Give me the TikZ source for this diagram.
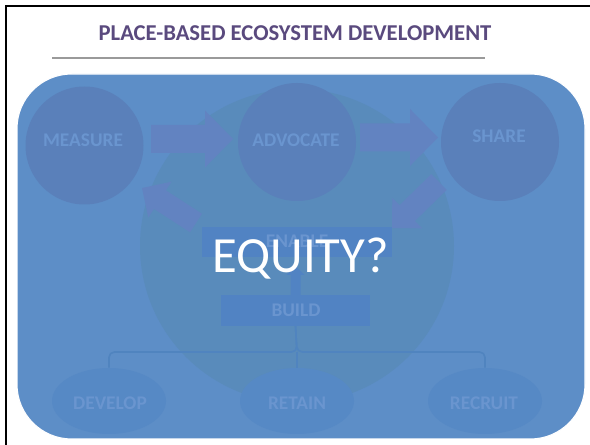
\documentclass[tikz,border=0pt]{standalone}
\usepackage{fontspec}
\setmainfont{Carlito}
\usetikzlibrary{calc,shapes.geometric}
\definecolor{bgblue}{HTML}{5D8EC7}
\definecolor{circblue}{HTML}{5A80BA}
\definecolor{arrblue}{HTML}{6283C1}
\definecolor{bigcirc}{HTML}{598BBB}
\definecolor{boxblue}{HTML}{5183C3}
\definecolor{ellblue}{HTML}{5689C5}
\definecolor{linblue}{HTML}{5084BF}
\definecolor{fadetxt}{HTML}{6A95CF}
\definecolor{titlepurple}{HTML}{5A4A7E}
\definecolor{rulegray}{HTML}{9A9A9A}
\newcommand{\blockarr}[6]{%
  \path ($(#2)!#5!(#1)$) coordinate (hb);
  \fill[#6] ($(#1)!#3!90:(#2)$) -- ($(hb)!#3!90:(#2)$) -- ($(hb)!#4!90:(#2)$) -- (#2)
    -- ($(hb)!#4!-90:(#2)$) -- ($(hb)!#3!-90:(#2)$) -- ($(#1)!#3!-90:(#2)$) -- cycle;}
\begin{document}
\begin{tikzpicture}[x=0.75pt,y=-0.75pt,
  stage/.style={circle,fill=circblue,minimum size=88.5pt,inner sep=0pt},
  oval/.style={ellipse,fill=ellblue,minimum width=85.5pt,minimum height=49.5pt,inner sep=0pt},
  bar/.style={rectangle,fill=boxblue,inner sep=0pt},
  lbl/.style={font=\bfseries\fontsize{14.5}{16}\selectfont,text=fadetxt,inner sep=0pt,anchor=base},
  conn/.style={draw=linblue,line width=1.2pt,rounded corners=4pt}]
\useasboundingbox (0,0) rectangle (590,445);
\fill[white] (0,0) rectangle (590,445);
% slide frame
\draw[line width=1.9pt,black] (6,445) -- (6,6) -- (590,6);
% title
\node[font=\bfseries\fontsize{17}{20}\selectfont,text=titlepurple,anchor=base,inner sep=0pt] (title) at (295,41) {PLACE-BASED ECOSYSTEM DEVELOPMENT};
\draw[rulegray,line width=1.1pt] (52,58) -- (485,58);
% overlay panel
\filldraw[fill=bgblue,draw=white,line width=0.8pt,rounded corners=41pt] (17,74) rectangle (585,439);
% big background circle
\node[circle,fill=bigcirc,minimum size=235.5pt,inner sep=0pt] (ring) at (297,246) {};
% stage circles
\node[stage] (measure) at (84.5,145.5) {};
\node[stage] (advocate) at (297,142) {};
\node[stage] (share) at (500,142) {};
% block arrows
\coordinate (a1s) at (151,139); \coordinate (a1e) at (233,139);
\coordinate (a2s) at (360,137.5); \coordinate (a2e) at (438,137.5);
\coordinate (a3s) at (439,182); \coordinate (a3e) at (392,228);
\coordinate (a4s) at (196,223); \coordinate (a4e) at (142,188);
\blockarr{a1s}{a1e}{10.5pt}{21.4pt}{21pt}{arrblue}
\blockarr{a2s}{a2e}{10.5pt}{21.4pt}{21pt}{arrblue}
\blockarr{a3s}{a3e}{8.25pt}{16pt}{16pt}{arrblue}
\blockarr{a4s}{a4e}{8.25pt}{16pt}{16pt}{arrblue}
% enable / build
\node[bar,minimum width=142.5pt,minimum height=22.5pt] (enable) at (297,242) {};
\node[bar,minimum width=111.75pt,minimum height=23.25pt] (build) at (295.5,310.5) {};
\coordinate (a5s) at (295.5,295); \coordinate (a5e) at (295.5,266);
\blockarr{a5s}{a5e}{3.75pt}{6.75pt}{6.75pt}{boxblue}
% outcome ellipses
\node[oval] (develop) at (109,401) {};
\node[oval] (retain) at (297,401) {};
\node[oval] (recruit) at (485,401) {};
% tree connector
\draw[conn] (build.south) -- (297,352) -| (develop.north);
\draw[conn] (build.south) -- (297,352) -| (recruit.north);
\draw[conn] (297,352) -- (retain.north);
% faded labels
\node[lbl] (measuret) at (83,147) {MEASURE};
\node[lbl] (advocatet) at (296,147) {ADVOCATE};
\node[lbl] (sharet) at (499,143) {SHARE};
\node[lbl] (enablet) at (297,248) {ENABLE};
\node[lbl] (buildt) at (296,316.5) {BUILD};
\node[lbl] (developt) at (110,409.5) {DEVELOP};
\node[lbl] (retaint) at (297,409.5) {RETAIN};
\node[lbl] (recruitt) at (484,409.5) {RECRUIT};
% overlay question
\node[font=\fontsize{38}{44}\selectfont,text=white,anchor=base,inner sep=0pt] (equity) at (300.5,273) {EQUITY?};
\end{tikzpicture}
\end{document}
